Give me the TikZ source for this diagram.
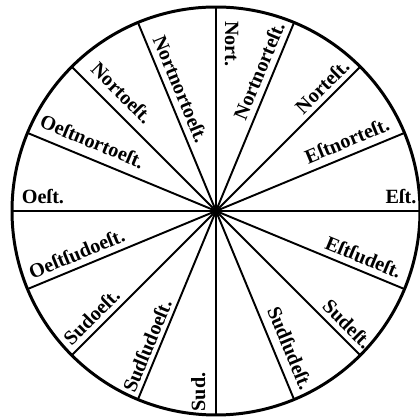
\documentclass[tikz,border=0pt]{standalone}
\usepackage{fontspec}
\setmainfont{Liberation Serif}
\usetikzlibrary{calc}
\tikzset{
  windname/.style={inner sep=0pt, anchor=base, font=\fontsize{11.5}{13}\selectfont\bfseries},
  rim/.style={line width=1.7pt},
  rhumb/.style={line width=1.1pt}
}
\begin{document}
\begin{tikzpicture}[x=0.02cm, y=0.02cm]
\useasboundingbox (0,0) rectangle (420,419);
\coordinate (centre) at (216,208);
\draw[rim] (centre) circle (204);
% the eight rhumb lines through the centre
\draw[rhumb] (centre) ++(0:204) -- ++(180:408);
\draw[rhumb] (centre) ++(22.5:204) -- ++(202.5:408);
\draw[rhumb] (centre) ++(45:204) -- ++(225:408);
\draw[rhumb] (centre) ++(67.5:204) -- ++(247.5:408);
\draw[rhumb] (centre) ++(90:204) -- ++(270:408);
\draw[rhumb] (centre) ++(112.5:204) -- ++(292.5:408);
\draw[rhumb] (centre) ++(135:204) -- ++(315:408);
\draw[rhumb] (centre) ++(157.5:204) -- ++(337.5:408);
% east half, read outwards
\node[windname, rotate=67.5] (nnest) at ($(centre)+(67.5:146)+(157.5:7)$) {Nortnorteſt.};
\node[windname, rotate=45] (nest) at ($(centre)+(45:163)+(135:6)$) {Norteſt.};
\node[windname, rotate=22.5] (enest) at ($(centre)+(22.5:148)+(112.5:8)$) {Eſtnorteſt.};
\node[windname] (est) at ($(centre)+(0:185)+(90:7)$) {Eſt.};
\node[windname, rotate=-22.5] (esest) at ($(centre)+(-22.5:154)+(67.5:7)$) {Eſtſudeſt.};
\node[windname, rotate=-45] (sest) at ($(centre)+(-45:173)+(45:6)$) {Sudeſt.};
\node[windname, rotate=-67.5] (ssest) at ($(centre)+(-67.5:155)+(22.5:9)$) {Sudſudeſt.};
% west half, read inwards
\node[windname, rotate=-90] (nort) at ($(centre)+(90:167)+(0:9)$) {Nort.};
\node[windname, rotate=90] (sud) at ($(centre)+(270:181)+(180:11)$) {Sud.};
\node[windname, rotate=67.5] (ssoest) at ($(centre)+(247.5:151)+(157.5:5)$) {Sudſudoeſt.};
\node[windname, rotate=45] (soest) at ($(centre)+(225:163)+(135:6)$) {Sudoeſt.};
\node[windname, rotate=22.5] (osoest) at ($(centre)+(202.5:145)+(112.5:7)$) {Oeſtſudoeſt.};
\node[windname] (oest) at ($(centre)+(180:173)+(90:7)$) {Oeſt.};
\node[windname, rotate=-22.5] (onoest) at ($(centre)+(157.5:141)+(67.5:10)$) {Oeſtnortoeſt.};
\node[windname, rotate=-45] (noest) at ($(centre)+(135:150)+(45:10)$) {Nortoeſt.};
\node[windname, rotate=-67.5] (nnoest) at ($(centre)+(112.5:126)+(22.5:7)$) {Nortnortoeſt.};
\end{tikzpicture}
\end{document}
